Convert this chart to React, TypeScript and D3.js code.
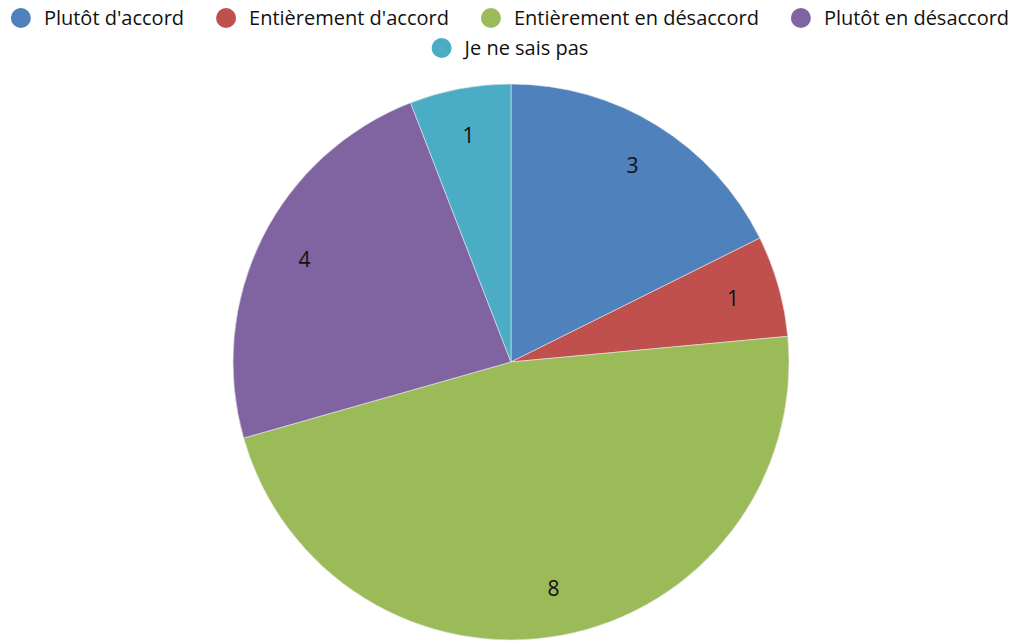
import React, { useEffect, useRef } from "react";
import * as d3 from "d3";

const categories = [
  "Plutôt d'accord",
  "Entièrement d'accord",
  "Entièrement en désaccord",
  "Plutôt en désaccord",
  "Je ne sais pas",
];
const counts = [3, 1, 8, 4, 1];
const colors = ["#4F81BD", "#C0504D", "#9BBB59", "#8064A2", "#4BACC6"];
const legendRows = [
  [0, 1, 2, 3],
  [4],
];

const App: React.FC = () => {
  const ref = useRef<SVGSVGElement | null>(null);

  useEffect(() => {
    const svg = d3.select(ref.current);
    svg.selectAll("*").remove();

    const width = 1020;
    const height = 641;
    const cx = 511;
    const cy = 362;
    const radius = 278;
    const font = "'Open Sans', sans-serif";

    const data = categories.map((name, i) => ({ name, value: counts[i], color: colors[i] }));

    const pie = d3
      .pie<{ name: string; value: number; color: string }>()
      .sort(null)
      .value((d) => d.value);

    const arc = d3
      .arc<d3.PieArcDatum<{ name: string; value: number; color: string }>>()
      .innerRadius(0)
      .outerRadius(radius);

    const labelArc = d3
      .arc<d3.PieArcDatum<{ name: string; value: number; color: string }>>()
      .innerRadius(radius * 0.83)
      .outerRadius(radius * 0.83);

    const g = svg.append("g").attr("transform", `translate(${cx},${cy})`);

    const slices = g.selectAll(".slice").data(pie(data)).enter().append("g");

    slices
      .append("path")
      .attr("d", arc)
      .attr("fill", (d) => d.data.color)
      .attr("stroke", "#e8e8e8")
      .attr("stroke-width", 0.6);

    slices
      .append("text")
      .attr("transform", (d) => `translate(${labelArc.centroid(d)})`)
      .attr("text-anchor", "middle")
      .attr("dy", "0.35em")
      .attr("font-family", font)
      .attr("font-size", 21)
      .attr("fill", "#111")
      .text((d) => d.data.value);

    // legend, each row centred
    const rowY = [18, 48];
    legendRows.forEach((row, r) => {
      const lg = svg.append("g");
      let x = 0;
      row.forEach((i, k) => {
        const item = lg.append("g").attr("transform", `translate(${x},${rowY[r]})`);
        item.append("circle").attr("cx", 10).attr("cy", 0).attr("r", 10).attr("fill", colors[i]);
        const t = item
          .append("text")
          .attr("x", 33)
          .attr("dy", "0.35em")
          .attr("font-family", font)
          .attr("font-size", 20)
          .attr("fill", "#111")
          .text(categories[i]);
        const w = (t.node() as SVGTextElement).getComputedTextLength();
        x += 33 + w + (k < row.length - 1 ? 32 : 0);
      });
      lg.attr("transform", `translate(${(width - x) / 2},0)`);
    });

    svg.attr("height", height);
  }, []);

  return (
    <svg
      ref={ref}
      width={1020}
      height={641}
      style={{ position: "absolute", left: 0, top: 0, background: "#fff" }}
    ></svg>
  );
};

export default App;
